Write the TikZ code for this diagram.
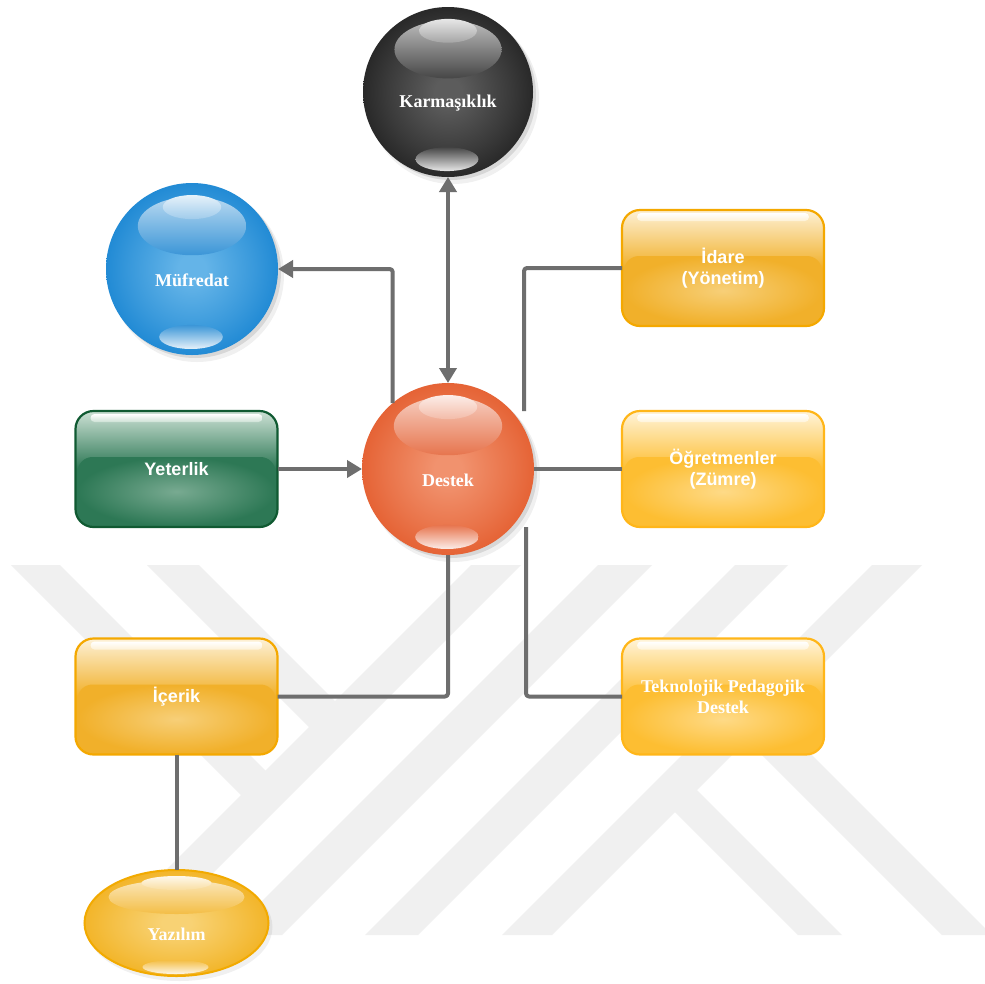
\documentclass[tikz,border=0pt]{standalone}
\usepackage{fontspec}
\setmainfont{Liberation Serif}
\newfontfamily\labelsans{Liberation Sans}
\usetikzlibrary{arrows.meta,shapes.geometric}

% palette
\definecolor{wmark}{RGB}{240,240,240}
\definecolor{wire}{RGB}{110,110,110}
\definecolor{redcore}{RGB}{241,146,110}
\definecolor{redrim}{RGB}{224,78,28}
\definecolor{inkcore}{RGB}{92,92,92}
\definecolor{inkrim}{RGB}{18,18,18}
\definecolor{bluecore}{RGB}{100,180,232}
\definecolor{bluerim}{RGB}{4,120,204}
\definecolor{ambcore}{RGB}{248,210,116}
\definecolor{ambrim}{RGB}{240,168,8}
\definecolor{ambline}{RGB}{242,170,0}
% glass boxes: top tint, base, glow, edge
\definecolor{grtop}{RGB}{205,225,213}
\definecolor{grbase}{RGB}{45,120,85}
\definecolor{grglow}{RGB}{120,170,145}
\definecolor{gredge}{RGB}{16,90,50}
\definecolor{ortop}{RGB}{253,241,214}
\definecolor{orbase}{RGB}{241,176,42}
\definecolor{orglow}{RGB}{247,207,120}
\definecolor{oredge}{RGB}{244,168,0}
\definecolor{yltop}{RGB}{255,244,218}
\definecolor{ylbase}{RGB}{253,190,50}
\definecolor{ylglow}{RGB}{254,218,135}
\definecolor{yledge}{RGB}{255,182,25}

\pgfdeclareradialshading[sphin,sphmid,sphout]{sphere}{\pgfpoint{0bp}{0bp}}%
  {color(0bp)=(sphin); color(4bp)=(sphin); color(18bp)=(sphmid); color(34bp)=(sphout); color(50bp)=(sphout)}

\tikzset{
  conn/.style={draw=wire, line width=4pt, rounded corners=3pt, line join=round},
  tip/.style={-{Triangle[length=15pt,width=17pt]}},
  spheretext/.style={text=white, inner sep=0pt, font=\fontsize{18}{21}\selectfont\bfseries},
  boxnode/.style={rectangle, minimum width=202pt, minimum height=116pt, inner sep=0pt,
                  outer sep=0pt, text=white, align=center},
  sanslabel/.style={font=\labelsans\fontsize{18}{21.5}\selectfont\bfseries},
  seriflabel/.style={font=\fontsize{18}{21}\selectfont\bfseries},
}

% glossy sphere: name, x, y, radius, core colour, rim colour, text
\newcommand{\GlassSphere}[7]{%
  \fill[black,opacity=0.06] ({#2+5},{#3+6}) circle ({#4+1});
  \fill[black,opacity=0.10] ({#2+3},{#3+3}) circle ({#4});
  \colorlet{sphin}{#5}\colorlet{sphout}{#6}\colorlet{sphmid}{#5!55!#6}%
  \shade[shading=sphere] (#2,#3) circle (#4);
  \shade[top color=white!72!#6, bottom color=white!22!#6]
    ({#2},{#3-0.5*#4}) ellipse ({0.63*#4} and {0.34*#4});
  \shade[top color=white!90!#6, bottom color=white!62!#6]
    ({#2},{#3-0.72*#4}) ellipse ({0.34*#4} and {0.14*#4});
  \shade[top color=white!22!#6, bottom color=white!90!#6]
    ({#2-1},{#3+0.79*#4}) ellipse ({0.37*#4} and {0.14*#4});
  \node[circle, minimum size={2*#4}, inner sep=0pt, outer sep=0pt] (#1) at (#2,#3) {};
  \node[spheretext] (#1-label) at ({#2},{#3+11}) {#7};
}

% glossy rounded box: name, cx, cy, top tint, base, glow, edge, label style, text
\newcommand{\GlassBox}[9]{%
  \shade[rounded corners=18pt, top color=#4, bottom color=#5, middle color=#5]
    ({#2-101},{#3-58}) rectangle ({#2+101},{#3+58});
  \shade[rounded corners=15pt, inner color=#6, outer color=#5]
    ({#2-99},{#3-12}) rectangle ({#2+99},{#3+57});
  \shade[rounded corners=4pt, top color=white, bottom color=#4]
    ({#2-86},{#3-55}) rectangle ({#2+86},{#3-47});
  \draw[#7, line width=2.2pt, rounded corners=18pt]
    ({#2-101},{#3-58}) rectangle ({#2+101},{#3+58});
  \node[boxnode, #8] (#1) at (#2,#3) {#9};
}

\begin{document}
\begin{tikzpicture}[x=1pt, y=-1pt]
\useasboundingbox (0,0) rectangle (985,983);
\fill[white] (0,0) rectangle (985,983);

% faint background emblem made of diagonal bands
\begin{scope}
\clip (0,0) rectangle (985,983);
\fill[wmark] (471,565) -- (521,565) -- (151,935) -- (101,935) -- cycle;
\fill[wmark] (598,565) -- (652,565) -- (282,935) -- (228,935) -- cycle;
\fill[wmark] (735,565) -- (788,565) -- (418,935) -- (365,935) -- cycle;
\fill[wmark] (872,565) -- (922,565) -- (552,935) -- (502,935) -- cycle;
\fill[wmark] (11,565) -- (60,565) -- (277.5,782.5) -- (253,807) -- cycle;
\fill[wmark] (147,565) -- (199,565) -- (347,713) -- (321,739) -- cycle;
\fill[wmark] (684.5,777.5) -- (842,935) -- (798,935) -- (662.5,799.5) -- cycle;
\fill[wmark] (759.5,702.5) -- (992,935) -- (942,935) -- (734.5,727.5) -- cycle;
\end{scope}

% spheres
\GlassSphere{kar}{448}{92}{85}{inkcore}{inkrim}{Karmaşıklık}
\GlassSphere{muf}{192}{269}{86}{bluecore}{bluerim}{Müfredat}
\GlassSphere{des}{448}{469}{86}{redcore}{redrim}{Destek}

% boxes
\GlassBox{yet}{176.5}{469}{grtop}{grbase}{grglow}{gredge}{sanslabel}{Yeterlik}
\GlassBox{ice}{176.5}{696.5}{ortop}{orbase}{orglow}{oredge}{sanslabel}{İçerik}
\GlassBox{ida}{723}{268}{ortop}{orbase}{orglow}{oredge}{sanslabel}{İdare\\(Yönetim)}
\GlassBox{ogr}{723}{469}{yltop}{ylbase}{ylglow}{yledge}{sanslabel}{Öğretmenler\\(Zümre)}
\GlassBox{tek}{723}{696.5}{yltop}{ylbase}{ylglow}{yledge}{seriflabel}{Teknolojik Pedagojik\\Destek}

% Yazılım ellipse
\fill[black,opacity=0.06] (179.5,927) ellipse (93 and 54);
\colorlet{sphin}{ambcore}\colorlet{sphout}{ambrim}\colorlet{sphmid}{ambcore!55!ambrim}
\shade[shading=sphere] (176.5,923) ellipse (92 and 53);
\shade[top color=white!72!ambrim, bottom color=white!25!ambrim] (176.5,897) ellipse (68 and 17);
\shade[top color=white!92!ambrim, bottom color=white!62!ambrim] (176.5,883) ellipse (35 and 7);
\shade[top color=white!25!ambrim, bottom color=white!90!ambrim] (175.5,967) ellipse (33 and 7);
\node[ellipse, draw=ambline, line width=2pt, minimum width=184pt, minimum height=106pt,
      inner sep=0pt, outer sep=0pt] (yaz) at (176.5,923) {};
\node[spheretext] (yaz-label) at (176.5,934) {Yazılım};

% connectors
\coordinate (idafoot) at (524,411);
\coordinate (tekfoot) at (526,527);
\draw[conn, {Triangle[length=15pt,width=17pt]}-{Triangle[length=15pt,width=17pt]}] (kar.south) -- (des.north);
\draw[conn, tip] (des.130.6) |- (muf.east);
\draw[conn, tip] (yet.east) -- (des.west);
\draw[conn] (idafoot) |- (ida.west);
\draw[conn] (des.east) -- (ogr.west);
\draw[conn] (tekfoot) |- (tek.west);
\draw[conn] (des.south) |- (ice.east);
\draw[conn] (ice.south) -- (yaz.north);
\end{tikzpicture}
\end{document}
